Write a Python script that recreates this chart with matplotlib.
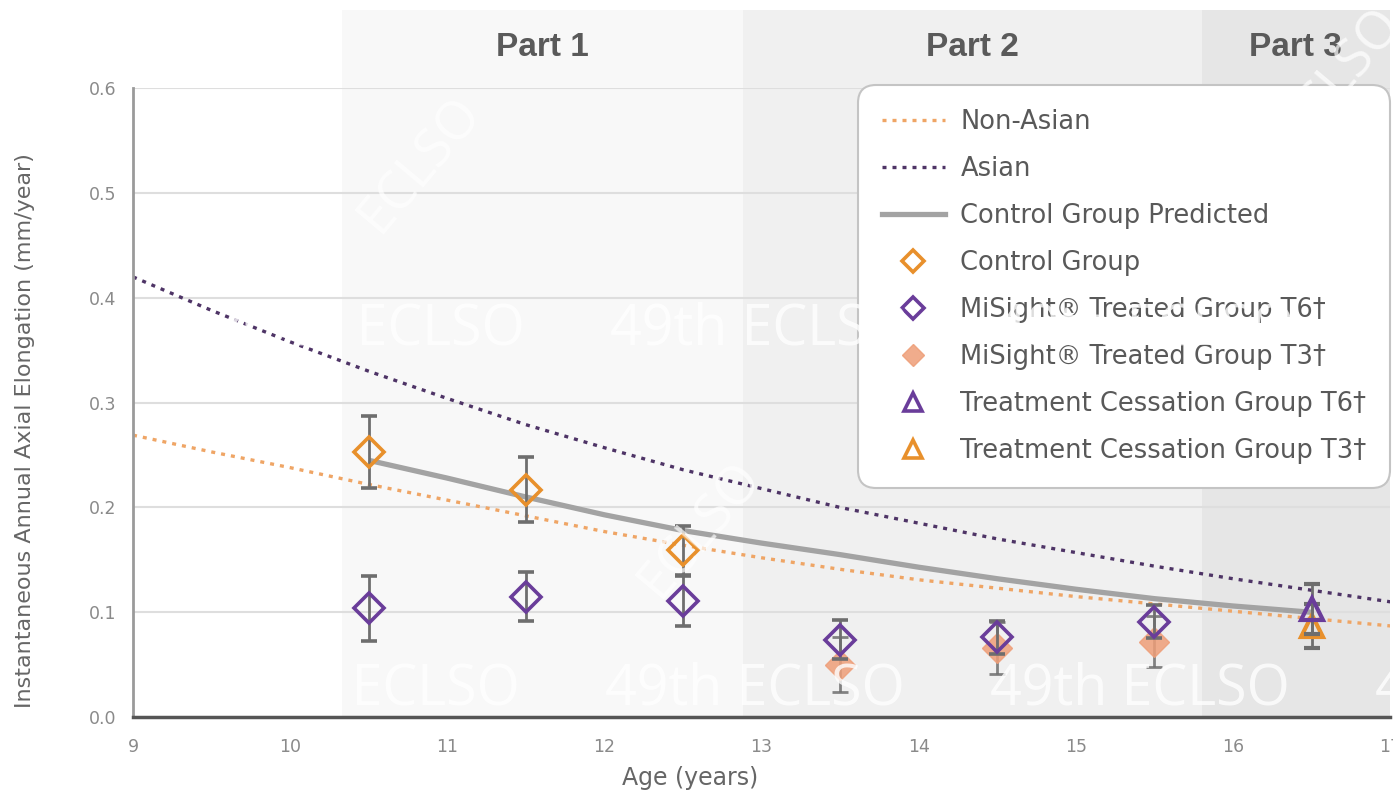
import matplotlib
matplotlib.use("Agg")
import matplotlib.pyplot as plt
from matplotlib.lines import Line2D
from matplotlib.patches import Rectangle

plt.rcParams['font.family'] = ['DejaVu Sans']

# ---------------- data ----------------
curve_ages = [9, 9.5, 10, 10.5, 11, 11.5, 12, 12.5, 13, 13.5, 14, 14.5, 15, 15.5, 16, 16.5, 17]
asian = [0.420, 0.388, 0.358, 0.330, 0.304, 0.279, 0.257, 0.236, 0.218, 0.200, 0.185, 0.170,
         0.157, 0.144, 0.132, 0.121, 0.110]
non_asian = [0.269, 0.253, 0.238, 0.222, 0.207, 0.192, 0.177, 0.164, 0.152, 0.141, 0.131, 0.123,
             0.115, 0.108, 0.101, 0.094, 0.087]

pred_ages = [10.5, 11, 11.5, 12, 12.5, 13, 13.5, 14, 14.5, 15, 15.5, 16, 16.5]
control_pred = [0.245, 0.228, 0.210, 0.193, 0.178, 0.166, 0.155, 0.143, 0.132, 0.122, 0.113, 0.106, 0.100]

control_ages = [10.5, 11.5, 12.5]
control_vals = [0.253, 0.217, 0.159]
control_err = [0.034, 0.031, 0.023]

t6_ages = [10.5, 11.5, 12.5, 13.5, 14.5, 15.5]
t6_vals = [0.104, 0.115, 0.111, 0.074, 0.076, 0.091]
t6_err = [0.031, 0.023, 0.024, 0.019, 0.016, 0.016]

t3_ages = [13.5, 14.5, 15.5]
t3_vals = [0.050, 0.066, 0.072]
t3_err = [0.026, 0.025, 0.024]

cess_t6_ages = [16.5]
cess_t6_vals = [0.103]
cess_t6_err = [0.024]

cess_t3_ages = [16.5]
cess_t3_vals = [0.087]
cess_t3_err = [0.021]

parts = ["Part 1", "Part 2", "Part 3"]
part_bounds = [(10.33, 12.88), (12.88, 15.80), (15.80, 17.0)]
part_colors = ['#f8f8f8', '#f0f0f0', '#e6e6e6']

legend_labels = ["Non-Asian", "Asian", "Control Group Predicted", "Control Group",
                 "MiSight® Treated Group T6†", "MiSight® Treated Group T3†",
                 "Treatment Cessation Group T6†", "Treatment Cessation Group T3†"]

# ---------------- colours ----------------
ORANGE = '#E8902C'
PURPLE = '#6A3D9A'
ASIAN_C = '#4E3466'
NONASIAN_C = '#EFA565'
GRAY_LINE = '#A3A3A3'
ERR_C = '#6E6E6E'
T3_FILL = '#EE9E78'

fig = plt.figure(figsize=(13.93, 7.95), dpi=100)
ax = fig.add_axes([0.0955, 0.098, 0.9025, 0.791])
ax.set_xlim(9, 17)
ax.set_ylim(0, 0.6)

# background bands (extend above axes for header)
top_ext = (717 - 10) / (717 - 88)
for (x0, x1), c, name in zip(part_bounds, part_colors, parts):
    r = Rectangle((x0, 0), x1 - x0, top_ext, transform=ax.get_xaxis_transform(),
                  facecolor=c, edgecolor='none', clip_on=False, zorder=0)
    ax.add_patch(r)
    ax.text((x0 + x1) / 2, 1.065, name, transform=ax.get_xaxis_transform(),
            ha='center', va='center', fontsize=24, fontweight='bold', color='#5a5a5a',
            family=['Liberation Sans', 'DejaVu Sans'], zorder=1)

# grid
for yv in [0.1, 0.2, 0.3, 0.4, 0.5, 0.6]:
    ax.axhline(yv, color='#dedede', lw=1.5, zorder=0.5)

# curves
ax.plot(curve_ages, non_asian, color=NONASIAN_C, lw=2.4, linestyle=(0, (1.2, 1.8)), zorder=2)
ax.plot(curve_ages, asian, color=ASIAN_C, lw=2.4, linestyle=(0, (1.2, 1.8)), zorder=2)
ax.plot(pred_ages, control_pred, color=GRAY_LINE, lw=3.8, solid_capstyle='butt', zorder=2.5)

ms = 15.5
mew = 2.6
ebkw = dict(ecolor=ERR_C, elinewidth=2.0, capsize=6, capthick=2.0, linestyle='none')

ax.errorbar(t3_ages, t3_vals, yerr=t3_err, marker='D', ms=ms, mfc=T3_FILL, mec=T3_FILL,
            alpha=0.85, zorder=3, **ebkw)
ax.errorbar(t6_ages, t6_vals, yerr=t6_err, marker='D', ms=ms, mfc='none', mec=PURPLE,
            mew=mew, zorder=4, **ebkw)
ax.errorbar(control_ages, control_vals, yerr=control_err, marker='D', ms=ms, mfc='none',
            mec=ORANGE, mew=mew, zorder=4, **ebkw)
ax.errorbar(cess_t3_ages, cess_t3_vals, yerr=cess_t3_err, marker='^', ms=16, mfc='none',
            mec=ORANGE, mew=3.0, zorder=4, **ebkw)
ax.errorbar(cess_t6_ages, cess_t6_vals, yerr=cess_t6_err, marker='^', ms=16, mfc='none',
            mec=PURPLE, mew=3.0, zorder=4.5, **ebkw)

# axes styling
for s in ['top', 'right']:
    ax.spines[s].set_visible(False)
ax.spines['left'].set_color('#9a9a9a')
ax.spines['left'].set_linewidth(2.0)
ax.spines['bottom'].set_color('#555555')
ax.spines['bottom'].set_linewidth(2.5)
ax.spines['left'].set_zorder(5)
ax.spines['bottom'].set_zorder(5)
ax.set_facecolor('white')

ax.set_xticks(range(9, 18))
ax.set_yticks([0.0, 0.1, 0.2, 0.3, 0.4, 0.5, 0.6])
ax.set_yticklabels(['0.0', '0.1', '0.2', '0.3', '0.4', '0.5', '0.6'])
ax.tick_params(axis='both', length=0, labelsize=12.5, labelcolor='#8a8a8a')
ax.tick_params(axis='x', pad=15)
ax.tick_params(axis='y', pad=12)
ax.set_xlabel('Age (years)', fontsize=17, color='#666666')
ax.xaxis.set_label_coords(0.443, -0.077)
ax.set_ylabel('Instantaneous Annual Axial Elongation (mm/year)', fontsize=16, color='#666666')
ax.yaxis.set_label_coords(-0.078, 0.455)

# legend
handles = [
    Line2D([], [], color=NONASIAN_C, lw=2.4, linestyle=(0, (1.2, 1.8))),
    Line2D([], [], color=ASIAN_C, lw=2.4, linestyle=(0, (1.2, 1.8))),
    Line2D([], [], color=GRAY_LINE, lw=3.8),
    Line2D([], [], color='none', marker='D', ms=11, mfc='none', mec=ORANGE, mew=2.6),
    Line2D([], [], color='none', marker='D', ms=11, mfc='none', mec=PURPLE, mew=2.6),
    Line2D([], [], color='none', marker='D', ms=11, mfc=T3_FILL, mec=T3_FILL, alpha=0.85),
    Line2D([], [], color='none', marker='^', ms=13, mfc='none', mec=PURPLE, mew=2.6),
    Line2D([], [], color='none', marker='^', ms=13, mfc='none', mec=ORANGE, mew=2.6),
]
leg = ax.legend(handles, legend_labels, loc='upper right', bbox_to_anchor=(1.0, 1.005),
                prop={'family': 'DejaVu Sans', 'size': 18.5}, labelcolor='#595959',
                frameon=True, fancybox=True,
                edgecolor='#c4c4c4', facecolor='white', framealpha=1.0,
                handlelength=2.45, handletextpad=0.6, labelspacing=0.82,
                borderpad=0.92, borderaxespad=0.0)
leg.get_frame().set_linewidth(1.5)
leg.get_frame().set_boxstyle('round,pad=0,rounding_size=0.7')
leg.set_zorder(10)

# watermark
wm = dict(color='white', alpha=0.8, fontsize=40, family=['Open Sans', 'DejaVu Sans'],
          zorder=20, va='center', ha='left')
for xs in [225, 610, 995]:
    fig.text(xs / 1393, 1 - 330 / 795, '49th ECLSO', **wm)
for xs in [220, 605, 990, 1375]:
    fig.text(xs / 1393, 1 - 690 / 795, '49th ECLSO', **wm)
for (xc, yc) in [(420, 165), (700, 530), (1340, 75)]:
    fig.text(xc / 1393, 1 - yc / 795, 'ECLSO', color='white', alpha=0.7, fontsize=38,
             family=['Open Sans', 'DejaVu Sans'], rotation=50, ha='center', va='center', zorder=20)

fig.savefig('out.png', dpi=100)
